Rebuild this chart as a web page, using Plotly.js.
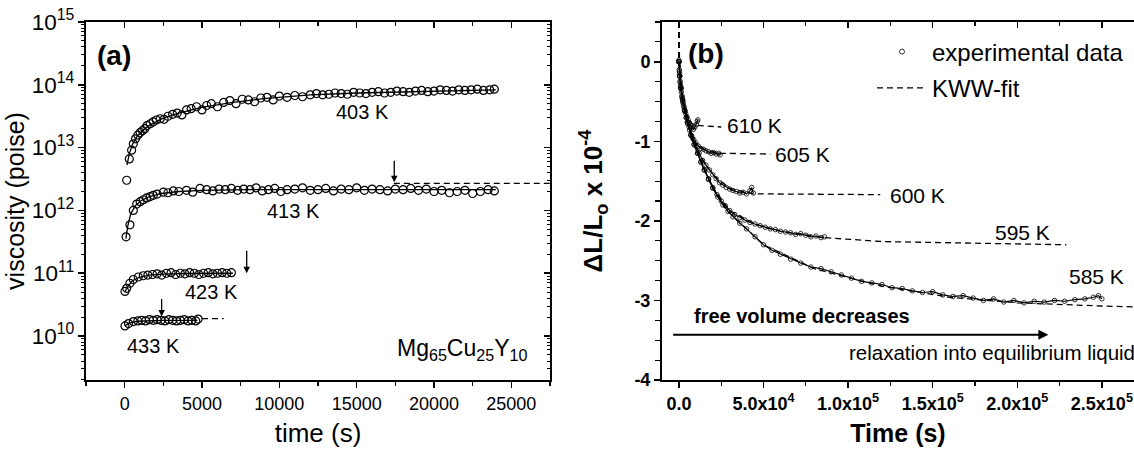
<!DOCTYPE html>
<html>
<head>
<meta charset="utf-8">
<script src="https://cdn.plot.ly/plotly-3.0.1.min.js"></script>
<style>html,body{margin:0;padding:0;background:#fff}#chart{width:1134px;height:452px}</style>
</head>
<body>
<div id="chart"></div>
<script>
// ---------- Panel (a): viscosity vs time ----------
var t403 = [130,300,450,560,700,850,1000,1150,1300,1450,1650,1850,2050,2300,2550,2800,3100,3400,3700,4000,4300,4650,5000,5300,5600,6000,6400,6800,7200,7600,8000,8400,8800,9200,9600,10000,10500,11000,11500,12000,12400,12800,13200,13600,14000,14400,14800,15200,15600,16000,16400,16800,17200,17600,18000,18400,18800,19200,19600,20000,20400,20800,21200,21600,22000,22400,22800,23200,23600,23900];
var v403 = [3.02e12,6.61e12,9.12e12,1.15e13,1.38e13,1.58e13,1.74e13,1.86e13,2.0e13,2.24e13,2.4e13,2.57e13,2.75e13,2.88e13,2.82e13,3.16e13,3.39e13,3.55e13,3.31e13,3.98e13,4.17e13,4.47e13,3.98e13,4.68e13,5.01e13,4.47e13,5.25e13,5.62e13,5.01e13,5.89e13,5.75e13,5.37e13,6.17e13,6.31e13,5.75e13,6.61e13,6.31e13,6.76e13,6.46e13,6.92e13,7.24e13,6.92e13,7.08e13,7.41e13,7.24e13,7.08e13,7.59e13,7.41e13,7.24e13,7.59e13,7.76e13,7.41e13,7.59e13,7.94e13,7.76e13,7.59e13,7.94e13,8.13e13,7.76e13,7.94e13,8.32e13,8.13e13,7.94e13,8.32e13,8.13e13,8.32e13,8.51e13,8.13e13,8.32e13,8.51e13];
var tFit403 = [150,300,500,800,1200,1700,2500,3500,5000,7000,9000,12000,15000,18000,21000,24000];
var vFit403 = [5.25e12,7.94e12,1.12e13,1.51e13,1.91e13,2.34e13,2.95e13,3.55e13,4.37e13,5.25e13,6.03e13,6.92e13,7.41e13,7.76e13,8.13e13,8.32e13];

var t413 = [90,340,560,780,1000,1200,1420,1650,1850,2100,2500,2800,3150,3500,4000,4400,4870,5300,5700,6100,6500,6900,7300,7700,8100,8500,8900,9300,9700,10100,10500,11000,11500,12000,12500,13000,13500,14000,14500,15000,15500,16000,16500,17000,17500,18000,18500,19000,19500,20000,20500,21000,21500,22000,22500,23000,23500,23900];
var v413 = [3.8e11,5.89e11,1.0e12,1.26e12,1.38e12,1.48e12,1.58e12,1.66e12,1.74e12,1.82e12,1.95e12,1.91e12,2.04e12,2.0e12,2.09e12,1.95e12,2.24e12,2.14e12,2.04e12,2.19e12,2.14e12,2.24e12,2.09e12,2.19e12,2.14e12,2.29e12,2.04e12,2.14e12,2.24e12,2.0e12,2.14e12,2.19e12,2.29e12,2.09e12,2.14e12,2.24e12,2.04e12,2.19e12,2.14e12,2.29e12,2.09e12,2.19e12,2.14e12,2.04e12,2.19e12,2.14e12,2.24e12,2.09e12,2.19e12,2.0e12,2.09e12,1.91e12,2.0e12,2.09e12,1.86e12,2.0e12,2.14e12,2.04e12];
var tFit413 = [80,200,400,700,1100,1600,2400,3500,5000,8000,12000,17000,24000];
var vFit413 = [3.55e11,5.62e11,8.91e11,1.2e12,1.45e12,1.66e12,1.86e12,2.0e12,2.09e12,2.14e12,2.14e12,2.14e12,2.14e12];
var tEq413 = [17400,27500];
var vEq413 = [2.7e12,2.7e12];

var t423 = [20,130,340,560,880,1200,1500,1800,2100,2400,2700,3000,3300,3600,3900,4200,4500,4800,5100,5400,5700,6000,6300,6600,6900];
var v423 = [5.13e10,5.75e10,6.92e10,7.94e10,8.71e10,9.12e10,9.33e10,9.55e10,9.77e10,9.33e10,1.0e11,1.02e11,9.55e10,1.0e11,9.77e10,1.02e11,1.0e11,9.55e10,1.0e11,1.02e11,9.77e10,1.0e11,1.02e11,1.0e11,1.02e11];
var tFit423 = [20,200,500,1000,1600,2500,4000,7000];
var vFit423 = [5.1e10,6.2e10,7.6e10,8.7e10,9.3e10,9.7e10,9.9e10,1.0e11];

var t433 = [20,250,560,850,1100,1350,1600,1850,2100,2350,2600,2850,3100,3350,3600,3850,4100,4350,4600,4750];
var v433 = [1.45e10,1.58e10,1.7e10,1.74e10,1.78e10,1.74e10,1.82e10,1.78e10,1.82e10,1.78e10,1.74e10,1.82e10,1.78e10,1.74e10,1.78e10,1.82e10,1.74e10,1.78e10,1.74e10,1.86e10];
var tFit433 = [20,300,800,1500,2500,4700];
var vFit433 = [1.45e10,1.62e10,1.72e10,1.76e10,1.78e10,1.78e10];
var tEq433 = [5000,6400];
var vEq433 = [1.9e10,1.9e10];

// arrows marking equilibrium (time, viscosity at arrow tip)
var arrowT = [17430, 7890, 2390];
var arrowV = [2.8e12, 1.0e11, 2.05e10];
var arrowLen = [23, 24, 19];

var labelsA = ['403 K','413 K','423 K','433 K'];
var labelAT = [15400, 10900, 5630, 1850];
var labelAV = [3.7e13, 9.9e11, 5.1e10, 6.9e9];

// ---------- Panel (b): length change vs time ----------
var t610 = [0,200,400,700,1000,1400,1800,2300,2800,3400,4000,4700,5400,6200,7000,7800,8600,9400,10200,10800,11200];
var d610 = [0.02,-0.1,-0.18,-0.26,-0.32,-0.38,-0.43,-0.5,-0.55,-0.6,-0.65,-0.69,-0.73,-0.77,-0.8,-0.83,-0.85,-0.82,-0.79,-0.75,-0.73];
var tFit610 = [0,100,500,1500,3000,5000,8000,11000,25000];
var dFit610 = [0.5,0.05,-0.2,-0.4,-0.57,-0.7,-0.78,-0.8,-0.82];

var t605 = [0,300,700,1200,1800,2500,3300,4200,5200,6300,7500,8800,10000,11500,13000,14500,16000,17500,19000,20500,22000,23500,24300];
var d605 = [0,-0.12,-0.24,-0.34,-0.44,-0.52,-0.61,-0.7,-0.78,-0.86,-0.93,-0.98,-1.02,-1.06,-1.09,-1.1,-1.12,-1.13,-1.15,-1.14,-1.16,-1.15,-1.17];
var tFit605 = [0,100,1000,3000,6000,10000,15000,24000,54000];
var dFit605 = [0.5,0.05,-0.3,-0.58,-0.84,-1.02,-1.1,-1.15,-1.16];

var t600 = [0,400,1000,2000,3000,4500,6000,8000,10000,12000,14000,16000,18000,20000,22000,24000,26000,28000,30000,32000,34000,36000,38000,40000,42000,43000,44000];
var d600 = [0,-0.15,-0.3,-0.46,-0.57,-0.7,-0.82,-0.96,-1.06,-1.15,-1.24,-1.3,-1.36,-1.42,-1.47,-1.52,-1.55,-1.58,-1.6,-1.62,-1.63,-1.65,-1.64,-1.66,-1.62,-1.58,-1.65];
var tFit600 = [0,100,2000,6000,12000,20000,30000,44000,119000];
var dFit600 = [0.5,0.05,-0.46,-0.83,-1.16,-1.42,-1.59,-1.66,-1.67];

var t595 = [0,500,1200,2200,3500,5000,7000,9000,11000,13000,15000,17500,20000,22500,25000,27500,30000,33000,36000,39000,42000,45000,48000,51000,54000,57000,60000,63000,66000,69000,72000,75000,78000,81000,84000,86000];
var d595 = [0,-0.18,-0.33,-0.48,-0.62,-0.76,-0.92,-1.04,-1.15,-1.26,-1.36,-1.47,-1.58,-1.67,-1.75,-1.81,-1.87,-1.92,-1.96,-1.99,-2.02,-2.04,-2.06,-2.08,-2.1,-2.11,-2.13,-2.14,-2.15,-2.17,-2.16,-2.18,-2.2,-2.19,-2.21,-2.2];
var tFit595 = [0,100,2000,5000,10000,20000,30000,45000,60000,86000,120000,229000];
var dFit595 = [0.5,0.05,-0.46,-0.76,-1.1,-1.58,-1.87,-2.04,-2.13,-2.21,-2.26,-2.3];

var t585 = [0,500,1200,2200,3500,5000,7000,9000,11000,13000,15000,17500,20000,23000,26000,29000,32000,36000,40000,45000,50000,55000,60000,66000,72000,78000,84000,90000,96000,102000,108000,114000,120000,126000,132000,138000,144000,150000,156000,162000,168000,174000,180000,186000,192000,198000,204000,210000,216000,222000,228000,234000,240000,245000,248000,250000];
var d585 = [0,-0.18,-0.33,-0.48,-0.62,-0.76,-0.92,-1.04,-1.15,-1.26,-1.36,-1.48,-1.59,-1.7,-1.8,-1.88,-1.95,-2.03,-2.1,-2.2,-2.3,-2.37,-2.42,-2.48,-2.53,-2.58,-2.6,-2.64,-2.68,-2.72,-2.76,-2.78,-2.8,-2.84,-2.85,-2.88,-2.9,-2.89,-2.93,-2.95,-2.94,-2.97,-3.0,-2.98,-3.02,-3.0,-3.03,-3.01,-3.02,-3.0,-3.01,-2.99,-2.98,-2.96,-2.94,-2.98];
var tFit585 = [0,100,2000,5000,10000,20000,30000,50000,80000,120000,160000,200000,250000,269000];
var dFit585 = [0.5,0.05,-0.46,-0.76,-1.1,-1.59,-1.9,-2.3,-2.6,-2.82,-2.96,-3.03,-3.07,-3.08];

var labelsB = ['610 K','605 K','600 K','595 K','585 K'];
var labelBT = [44700, 73100, 141100, 203000, 247000];
var labelBD = [-0.8, -1.16, -1.675, -2.14, -2.7];

var xTickValsB = [0, 50000, 100000, 150000, 200000, 250000];
var xTickTextB = ['0.0','5.0x10<sup>4</sup>','1.0x10<sup>5</sup>','1.5x10<sup>5</sup>','2.0x10<sup>5</sup>','2.5x10<sup>5</sup>'];
var yTickValsB = [0, -1, -2, -3, -4];
var yTickTextB = ['0','-1','-2','-3','-4'];

// ---------- build ----------
var FONT = 'Liberation Sans, Arial, sans-serif';
var W = 1134;
var traces = [];

function fitLine(x, y, ax, ay, dash) {
  return {x: x, y: y, xaxis: ax, yaxis: ay, mode: 'lines', showlegend: false, hoverinfo: 'skip',
          line: {color: '#000', width: 1.3, dash: dash || 'solid'}};
}
function dataA(x, y) {
  return {x: x, y: y, xaxis: 'x', yaxis: 'y', mode: 'markers', showlegend: false, hoverinfo: 'skip',
          marker: {symbol: 'circle-open', size: 8, color: '#000', line: {width: 1.2, color: '#000'}}};
}
function dataB(x, y) {
  return {x: x, y: y, xaxis: 'x2', yaxis: 'y2', mode: 'lines+markers', showlegend: false, hoverinfo: 'skip',
          line: {color: '#000', width: 1.2},
          marker: {symbol: 'circle-open', size: 4.5, color: '#000', line: {width: 0.8, color: '#000'}}};
}

traces.push(fitLine(tFit403, vFit403, 'x', 'y'));
traces.push(fitLine(tFit413, vFit413, 'x', 'y'));
traces.push(fitLine(tFit423, vFit423, 'x', 'y'));
traces.push(fitLine(tFit433, vFit433, 'x', 'y'));
traces.push(fitLine(tEq413, vEq413, 'x', 'y', '6px,4px'));
traces.push(fitLine(tEq433, vEq433, 'x', 'y', '6px,4px'));
traces.push(dataA(t403, v403));
traces.push(dataA(t413, v413));
traces.push(dataA(t423, v423));
traces.push(dataA(t433, v433));

[[tFit610,dFit610],[tFit605,dFit605],[tFit600,dFit600],[tFit595,dFit595],[tFit585,dFit585]].forEach(function (p) {
  traces.push(fitLine(p[0], p[1], 'x2', 'y2', '6px,4px'));
});
[[t610,d610],[t605,d605],[t600,d600],[t595,d595],[t585,d585]].forEach(function (p) {
  traces.push(dataB(p[0], p[1]));
});

// legend entries
traces.push({x: [null], y: [null], xaxis: 'x2', yaxis: 'y2', name: 'experimental data', legendgroup: 'a',
  mode: 'markers', marker: {symbol: 'circle-open', size: 5, color: '#000', line: {width: 0.8}}});
traces.push({x: [null], y: [null], xaxis: 'x2', yaxis: 'y2', name: 'KWW-fit', legendgroup: 'b',
  mode: 'lines', line: {color: '#000', width: 1.3, dash: '6px,4px'}});

// dummy traces for mirrored inward ticks
traces.push({x: [null], y: [null], xaxis: 'x3', yaxis: 'y3', showlegend: false, hoverinfo: 'skip', mode: 'markers'});
traces.push({x: [null], y: [null], xaxis: 'x4', yaxis: 'y2', showlegend: false, hoverinfo: 'skip', mode: 'markers'});

var annotations = [];
function txt(xref, yref, x, y, text, size, weight, xanchor) {
  annotations.push({xref: xref, yref: yref, x: x, y: y, text: text, showarrow: false,
    xanchor: xanchor || 'center', yanchor: 'middle',
    font: {family: FONT, size: size, color: '#000', weight: weight || 'normal'}});
}
txt('x', 'y', -700, 14.47, '(a)', 28, 'bold');
for (var i = 0; i < labelsA.length; i++) txt('x', 'y', labelAT[i], Math.log10(labelAV[i]), labelsA[i], 20);
txt('x', 'y', 21800, 9.78, 'Mg<sub>65</sub>Cu<sub>25</sub>Y<sub>10</sub>', 23);
for (var j = 0; j < arrowT.length; j++) {
  annotations.push({xref: 'x', yref: 'y', x: arrowT[j], y: Math.log10(arrowV[j]), ax: 0, ay: -arrowLen[j],
    text: '', showarrow: true, arrowhead: 2, arrowsize: 1, arrowwidth: 1.3, arrowcolor: '#000', standoff: 0});
}
txt('x2', 'y2', 16000, 0.11, '(b)', 28, 'bold');
for (var k = 0; k < labelsB.length; k++) txt('x2', 'y2', labelBT[k], labelBD[k], labelsB[k], 21);
txt('x2', 'y2', 7500, -3.2, 'free volume decreases', 20, 'bold', 'left');
txt('x2', 'y2', 99500, -3.66, 'relaxation into equilibrium liquid', 20.5, 'normal', 'left');
annotations.push({xref: 'x2', yref: 'y2', axref: 'x2', ayref: 'y2', x: 218400, y: -3.43, ax: -4300, ay: -3.43,
  text: '', showarrow: true, arrowhead: 2, arrowsize: 1, arrowwidth: 2, arrowcolor: '#000', standoff: 0});

var axBase = {showgrid: false, zeroline: false, showline: true, linecolor: '#000', linewidth: 2,
  tickcolor: '#000', tickwidth: 1.5, ticklen: 6};
function ext(o) { var r = {}; for (var a in axBase) r[a] = axBase[a]; for (var b in o) r[b] = o[b]; return r; }

var dA = [86 / W, 550 / W];
var dB = [662 / W, 1];

var layout = {
  width: 1134, height: 452,
  margin: {l: 0, r: 0, t: 22, b: 72},
  paper_bgcolor: '#fff', plot_bgcolor: '#fff',
  font: {family: FONT, color: '#000'},
  showlegend: true,
  legend: {x: 872 / W, y: 0.979, xanchor: 'left', yanchor: 'top', bgcolor: 'rgba(0,0,0,0)',
    font: {family: FONT, size: 24, color: '#000'}, tracegroupgap: 2, itemwidth: 50},
  xaxis: ext({domain: dA, anchor: 'y', range: [-2500, 27500], tickmode: 'linear', tick0: 0, dtick: 5000,
    tickformat: 'd', ticks: 'outside', minor: {tickmode: 'linear', tick0: 0, dtick: 2500, ticks: 'outside', ticklen: 4, tickcolor: '#000', tickwidth: 1.2},
    tickfont: {family: FONT, size: 18}, title: {text: 'time (s)', font: {family: FONT, size: 26}, standoff: 11}}),
  xaxis3: ext({overlaying: 'x', side: 'top', anchor: 'y', range: [-2500, 27500], tickmode: 'linear', tick0: 0, dtick: 5000,
    ticks: 'inside', showticklabels: false, minor: {tickmode: 'linear', tick0: 0, dtick: 2500, ticks: 'inside', ticklen: 4, tickcolor: '#000', tickwidth: 1.2}}),
  yaxis: ext({domain: [0, 1], anchor: 'x', type: 'log', range: [9.3, 15], dtick: 1, exponentformat: 'power',
    ticks: 'outside', minor: {dtick: 'D1', ticks: 'outside', ticklen: 3, tickcolor: '#000', tickwidth: 1},
    tickfont: {family: FONT, size: 18}, title: {text: 'viscosity (poise)', font: {family: FONT, size: 25}, standoff: 0}}),
  yaxis3: ext({overlaying: 'y', side: 'right', anchor: 'x', type: 'log', range: [9.3, 15], dtick: 1,
    ticks: 'inside', showticklabels: false, minor: {dtick: 'D1', ticks: 'inside', ticklen: 3, tickcolor: '#000', tickwidth: 1}}),
  xaxis2: ext({domain: dB, anchor: 'y2', range: [-10000, 269000], tickmode: 'array', tickvals: xTickValsB, ticktext: xTickTextB,
    ticks: 'outside', minor: {tickmode: 'linear', tick0: 0, dtick: 25000, ticks: 'outside', ticklen: 4, tickcolor: '#000', tickwidth: 1.2},
    tickfont: {family: FONT, size: 18, weight: 'bold'}, title: {text: 'Time (s)', font: {family: FONT, size: 25, weight: 'bold'}, standoff: 12}}),
  xaxis4: ext({overlaying: 'x2', side: 'top', anchor: 'y2', range: [-10000, 269000], tickmode: 'array', tickvals: xTickValsB,
    ticks: 'inside', showticklabels: false, minor: {tickmode: 'linear', tick0: 0, dtick: 25000, ticks: 'inside', ticklen: 4, tickcolor: '#000', tickwidth: 1.2}}),
  yaxis2: ext({domain: [0, 1], anchor: 'x2', range: [-4, 0.5], tickmode: 'array', tickvals: yTickValsB, ticktext: yTickTextB,
    ticks: 'outside', minor: {tickmode: 'linear', tick0: 0, dtick: 0.25, ticks: 'outside', ticklen: 5, tickcolor: '#000', tickwidth: 1.2},
    tickfont: {family: FONT, size: 18, weight: 'bold'},
    title: {text: '\u0394L/L<sub>o</sub> x 10<sup>-4</sup>', font: {family: FONT, size: 26, weight: 'bold'}, standoff: 24}}),
  annotations: annotations
};

Plotly.newPlot('chart', traces, layout, {staticPlot: true, displayModeBar: false});
</script>
</body>
</html>
